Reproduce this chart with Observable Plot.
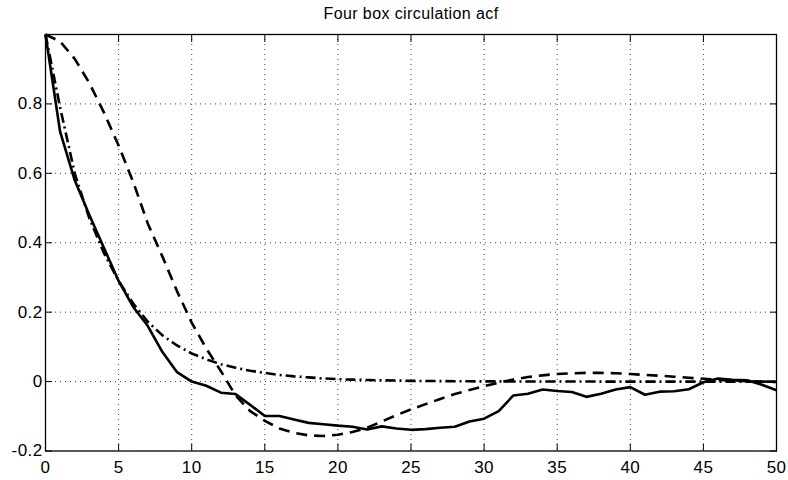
<!DOCTYPE html>
<html><head><meta charset="utf-8">
<script src="https://cdn.jsdelivr.net/npm/d3@7"></script>
<script src="https://cdn.jsdelivr.net/npm/@observablehq/plot@0.6"></script>
<style>body{margin:0;background:#fff}</style>
</head><body><div id="chart"></div>
<script>
const title = "Four box circulation acf";
const lags = [0,1,2,3,4,5,6,7,8,9,10,11,12,13,14,15,16,17,18,19,20,21,22,23,24,25,26,27,28,29,30,31,32,33,34,35,36,37,38,39,40,41,42,43,44,45,46,47,48,49,50];
const observed = [1.0,0.72,0.58,0.48,0.385,0.29,0.215,0.16,0.085,0.027,0.0,-0.012,-0.032,-0.036,-0.067,-0.099,-0.099,-0.109,-0.119,-0.123,-0.127,-0.13,-0.138,-0.129,-0.135,-0.139,-0.137,-0.133,-0.13,-0.115,-0.107,-0.085,-0.04,-0.035,-0.023,-0.027,-0.03,-0.044,-0.035,-0.023,-0.016,-0.038,-0.029,-0.028,-0.022,-0.002,0.009,0.005,0.004,-0.009,-0.025];
const modelDashed = [1.0,0.98,0.93,0.86,0.775,0.68,0.575,0.455,0.36,0.26,0.17,0.095,0.03,-0.04,-0.085,-0.113,-0.135,-0.148,-0.155,-0.157,-0.153,-0.145,-0.133,-0.115,-0.097,-0.08,-0.065,-0.05,-0.036,-0.024,-0.013,-0.003,0.006,0.013,0.018,0.022,0.024,0.025,0.025,0.024,0.022,0.019,0.017,0.014,0.011,0.008,0.005,0.003,0.001,0.0,-0.001];
const modelDashDot = [1.0,0.79,0.6,0.47,0.37,0.29,0.225,0.172,0.133,0.104,0.081,0.064,0.05,0.04,0.031,0.025,0.019,0.015,0.012,0.009,0.007,0.0055,0.0045,0.0035,0.003,0.002,0.0018,0.0014,0.001,0.0008,0.0006,0.0005,0.0004,0.0003,0.0002,0.0002,0.0001,0.0001,0,0,0,0,0,0,0,0,0,0,0,0,0];
const xTicks = [0,5,10,15,20,25,30,35,40,45,50];
const yTicks = [-0.2,0,0.2,0.4,0.6,0.8];
const yTickLabels = ["-0.2","0","0.2","0.4","0.6","0.8"];

const toRows = vals => lags.map((lag, i) => ({lag, acf: vals[i]}));
const font = "'Liberation Sans', Arial, Helvetica, sans-serif";
const lineStyle = {x: "lag", y: "acf", stroke: "black", strokeWidth: 2.6, strokeLinecap: "butt", strokeLinejoin: "round", curve: "linear"};

const chart = Plot.plot({
  width: 788, height: 480,
  marginLeft: 45, marginRight: 12, marginTop: 34, marginBottom: 29.5,
  style: {fontFamily: font, fontSize: "17px", background: "white", color: "black", letterSpacing: "0.4px"},
  x: {domain: [0, 50]},
  y: {domain: [-0.2, 1.0]},
  marks: [
    Plot.gridX(xTicks.slice(1, -1), {stroke: "#000", strokeOpacity: 0.75, strokeDasharray: "1,4"}),
    Plot.gridY(yTicks.slice(1), {stroke: "#000", strokeOpacity: 0.75, strokeDasharray: "1,4"}),
    Plot.axisX(xTicks, {anchor: "bottom", tickSize: 7, dy: -7, fill: "none", label: null}),
    Plot.axisX(xTicks, {anchor: "top", tickSize: 7, dy: 7, fill: "none", label: null}),
    Plot.axisY(yTicks, {anchor: "left", tickSize: 7, dx: 7, fill: "none", label: null}),
    Plot.axisY(yTicks, {anchor: "right", tickSize: 7, dx: -7, fill: "none", label: null}),
    Plot.axisX(xTicks, {anchor: "bottom", tickSize: 0, tickPadding: 10, tickFormat: d => String(d), label: null}),
    Plot.axisY(yTicks, {anchor: "left", tickSize: 0, tickPadding: 3, tickFormat: (d, i) => yTickLabels[i], label: null}),
    Plot.line(toRows(observed), lineStyle),
    Plot.line(toRows(modelDashed), {...lineStyle, strokeDasharray: "11,7"}),
    Plot.line(toRows(modelDashDot), {...lineStyle, strokeDasharray: "10,4,2,4"}),
    Plot.frame({stroke: "black", strokeWidth: 1.3}),
    Plot.text([title], {frameAnchor: "top", dy: -21, lineAnchor: "middle", fontSize: 16})
  ]
});
document.getElementById("chart").appendChild(chart);
</script>
</body></html>
